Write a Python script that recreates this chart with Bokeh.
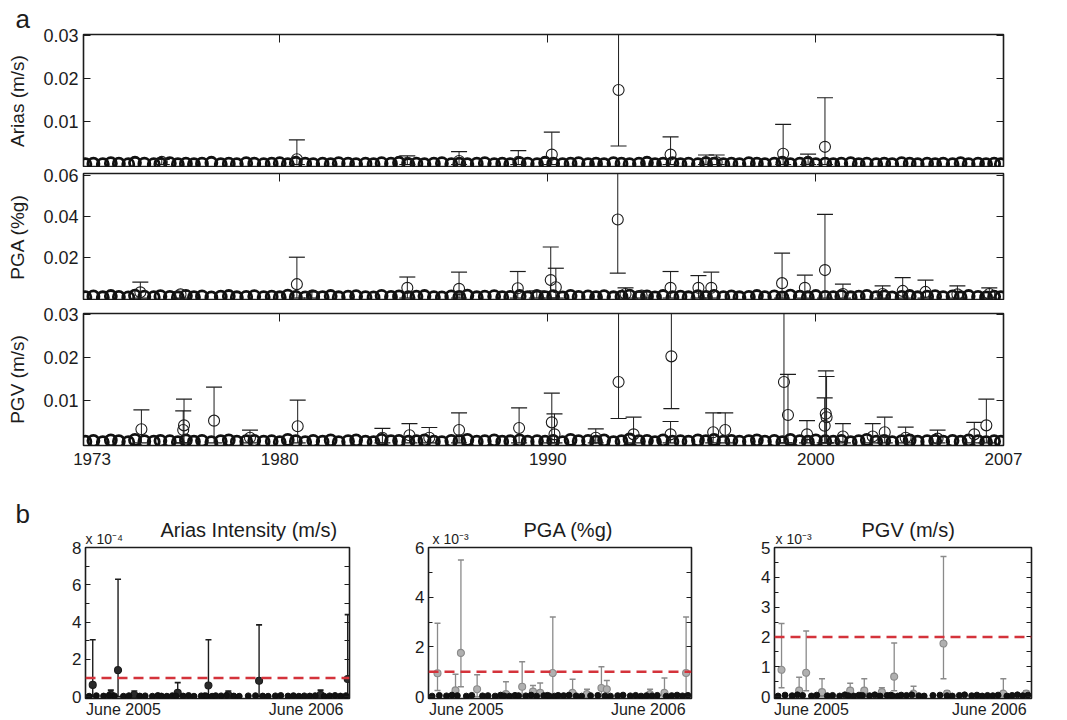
from bokeh.plotting import figure
from bokeh.layouts import column, row
from bokeh.models import FixedTicker, LinearAxis, Span, Range1d, Title
from bokeh.embed import file_html
from bokeh.resources import INLINE

# ---------------- data : panel a (1973-2007) ----------------
year_ticks = [1973, 1980, 1990, 2000, 2007]
year_labels = ["1973", "1980", "1990", "2000", "2007"]
decade_ticks = [1980, 1990, 2000]

# dense row of small events (values in units of 1e-4)
base_years = [1972.75, 1973.05, 1973.40, 1973.70, 1974.00, 1974.35, 1974.60, 1974.95, 1975.30, 1975.55,
              1975.90, 1976.20, 1976.50, 1976.80, 1977.10, 1977.45, 1977.80, 1978.10, 1978.40, 1978.75,
              1979.05, 1979.40, 1979.70, 1980.00, 1980.30, 1980.60, 1980.95, 1981.25, 1981.60, 1981.90,
              1982.20, 1982.55, 1982.85, 1983.20, 1983.50, 1983.80, 1984.15, 1984.45, 1984.80, 1985.10,
              1985.40, 1985.75, 1986.05, 1986.40, 1986.70, 1987.00, 1987.35, 1987.65, 1988.00, 1988.30,
              1988.60, 1988.95, 1989.25, 1989.60, 1989.90, 1990.20, 1990.55, 1990.85, 1991.15, 1991.50,
              1991.80, 1992.10, 1992.45, 1992.75, 1993.05, 1993.40, 1993.70, 1994.00, 1994.30, 1994.65,
              1994.95, 1995.25, 1995.60, 1995.90, 1996.20, 1996.55, 1996.85, 1997.15, 1997.50, 1997.80,
              1998.10, 1998.45, 1998.75, 1999.05, 1999.40, 1999.70, 2000.00, 2000.35, 2000.65, 2000.95,
              2001.30, 2001.60, 2001.90, 2002.25, 2002.55, 2002.85, 2003.20, 2003.50, 2003.80, 2004.15,
              2004.45, 2004.75, 2005.10, 2005.40, 2005.70, 2006.05, 2006.35, 2006.65, 2006.90]
base_arias_e4 = [1, 2, 1, 3, 2, 1, 4, 2, 1, 2,
                 3, 1, 2, 1, 2, 4, 1, 2, 1, 3,
                 2, 1, 2, 3, 1, 4, 2, 1, 2, 1,
                 3, 2, 1, 2, 1, 3, 2, 4, 1, 2,
                 1, 2, 3, 1, 2, 1, 2, 3, 1, 2,
                 1, 3, 2, 1, 4, 2, 1, 2, 3, 1,
                 2, 1, 3, 2, 1, 2, 4, 1, 2, 3,
                 1, 2, 1, 3, 2, 1, 2, 1, 3, 2,
                 1, 2, 4, 1, 2, 3, 1, 2, 1, 2,
                 3, 1, 2, 1, 2, 1, 3, 2, 1, 2,
                 1, 2, 1, 3, 1, 2, 1, 2, 1]
base_pga_e4 = [5, 8, 4, 10, 6, 3, 12, 7, 5, 9,
               6, 4, 11, 5, 8, 3, 7, 10, 4, 6,
               9, 5, 7, 4, 12, 6, 3, 8, 5, 10,
               4, 7, 9, 5, 3, 11, 6, 8, 4, 7,
               10, 5, 3, 8, 6, 12, 4, 7, 9, 5,
               6, 10, 4, 7, 5, 9, 3, 11, 6, 8,
               5, 9, 4, 7, 12, 6, 8, 3, 10, 5,
               7, 4, 9, 6, 11, 5, 8, 4, 6, 10,
               5, 8, 3, 12, 7, 4, 10, 6, 5, 9,
               4, 7, 11, 5, 8, 3, 6, 10, 4, 7,
               9, 5, 8, 4, 10, 6, 3, 7, 5]
base_pgv_e4 = [3, 5, 2, 6, 4, 2, 7, 4, 3, 5,
               4, 2, 6, 3, 5, 2, 4, 6, 3, 4,
               5, 3, 4, 2, 7, 4, 2, 5, 3, 6,
               2, 4, 6, 3, 2, 7, 4, 5, 3, 4,
               6, 3, 2, 5, 4, 7, 3, 4, 6, 3,
               4, 6, 3, 4, 3, 5, 2, 7, 4, 5,
               3, 6, 2, 4, 8, 4, 5, 2, 6, 3,
               4, 3, 6, 4, 7, 3, 5, 3, 4, 6,
               3, 5, 2, 7, 4, 3, 6, 4, 3, 5,
               2, 4, 7, 3, 5, 2, 4, 6, 3, 4,
               5, 3, 5, 3, 6, 4, 2, 4, 3]

# larger events with error bars (value, lower, upper)
arias_t = [1975.60, 1980.64, 1984.76, 1986.69, 1988.90, 1990.15, 1992.64, 1994.58, 1995.90, 1996.30,
           1998.78, 1999.71, 2000.34]
arias_v = [0.0006, 0.0012, 0.0004, 0.0008, 0.0006, 0.0023, 0.0173, 0.0023, 0.0005, 0.0005,
           0.0025, 0.0006, 0.0041]
arias_lo = [0.0, 0.0, 0.0, 0.0, 0.0, 0.0, 0.0043, 0.0, 0.0, 0.0,
            0.0, 0.0, 0.0]
arias_up = [0.0012, 0.0057, 0.0020, 0.0030, 0.0032, 0.0075, 0.0350, 0.0064, 0.0022, 0.0022,
            0.0093, 0.0024, 0.0155]

pga_t = [1974.80, 1976.30, 1980.64, 1981.20, 1984.76, 1986.69, 1988.88, 1989.59, 1990.11, 1990.30,
         1992.61, 1992.90, 1993.50, 1994.58, 1995.62, 1996.10, 1998.74, 1999.59, 2000.34, 2001.01,
         2002.49, 2003.24, 2004.09, 2005.28, 2006.47]
pga_v = [0.0028, 0.0018, 0.0068, 0.0012, 0.0050, 0.0045, 0.0048, 0.0015, 0.0088, 0.0053,
         0.0385, 0.0020, 0.0012, 0.0050, 0.0050, 0.0050, 0.0073, 0.0050, 0.0137, 0.0020,
         0.0020, 0.0035, 0.0030, 0.0018, 0.0020]
pga_lo = [0.0, 0.0, 0.0, 0.0, 0.0, 0.0, 0.0, 0.0, 0.0, 0.0,
          0.0122, 0.0, 0.0, 0.0, 0.0, 0.0, 0.0, 0.0, 0.0, 0.0,
          0.0, 0.0, 0.0, 0.0, 0.0]
pga_up = [0.0078, 0.0032, 0.0200, 0.0030, 0.0103, 0.0127, 0.0130, 0.0035, 0.0250, 0.0146,
          0.0650, 0.0050, 0.0030, 0.0130, 0.0110, 0.0127, 0.0220, 0.0112, 0.0410, 0.0068,
          0.0060, 0.0100, 0.0088, 0.0060, 0.0050]

pgv_t = [1974.84, 1976.40, 1976.43, 1977.55, 1978.89, 1980.67, 1983.83, 1984.84, 1985.58, 1986.69,
         1988.93, 1990.15, 1990.25, 1991.79, 1992.64, 1993.20, 1994.61, 1994.58, 1996.17, 1996.62,
         1998.81, 1998.96, 1999.67, 2000.37, 2000.40, 2000.33, 2001.01, 2002.12, 2002.57, 2003.35,
         2004.54, 2005.91, 2006.36]
pgv_v = [0.0032, 0.0030, 0.0041, 0.0052, 0.0012, 0.0039, 0.0012, 0.0018, 0.0012, 0.0030,
         0.0035, 0.0048, 0.0020, 0.0012, 0.0142, 0.0020, 0.0202, 0.0020, 0.0025, 0.0030,
         0.0142, 0.0065, 0.0020, 0.0068, 0.0060, 0.0040, 0.0015, 0.0015, 0.0025, 0.0012,
         0.0010, 0.0020, 0.0041]
pgv_lo = [0.0, 0.0, 0.0, 0.0, 0.0, 0.0, 0.0, 0.0, 0.0, 0.0,
          0.0, 0.0, 0.0, 0.0, 0.0057, 0.0, 0.0080, 0.0, 0.0, 0.0,
          0.0, 0.0, 0.0, 0.0, 0.0, 0.0, 0.0, 0.0, 0.0, 0.0,
          0.0, 0.0, 0.0]
pgv_up = [0.0077, 0.0075, 0.0102, 0.0130, 0.0030, 0.0100, 0.0034, 0.0045, 0.0036, 0.0070,
          0.0082, 0.0116, 0.0068, 0.0033, 0.0350, 0.0060, 0.0330, 0.0050, 0.0070, 0.0070,
          0.0340, 0.0160, 0.0052, 0.0168, 0.0155, 0.0105, 0.0045, 0.0045, 0.0060, 0.0037,
          0.0030, 0.0048, 0.0102]

# ---------------- data : panel b (2005-2006) ----------------
b_ticks = [2005.41, 2006.42]
b_labels = ["June 2005", "June 2006"]
b_base_t = [2005.22, 2005.26, 2005.30, 2005.33, 2005.36, 2005.41, 2005.44, 2005.50, 2005.53, 2005.57,
            2005.60, 2005.62, 2005.65, 2005.68, 2005.70, 2005.74, 2005.77, 2005.80, 2005.84, 2005.86,
            2005.87, 2005.90, 2005.92, 2005.95, 2005.98, 2006.02, 2006.05, 2006.10, 2006.14, 2006.18,
            2006.21, 2006.25, 2006.28, 2006.32, 2006.35, 2006.38, 2006.41, 2006.44, 2006.47, 2006.52,
            2006.55, 2006.58, 2006.61, 2006.64]
b_base_v = [0.02, 0.05, 0.03, 0.06, 0.04, 0.02, 0.05, 0.03, 0.04, 0.02,
            0.06, 0.03, 0.02, 0.05, 0.04, 0.03, 0.06, 0.02, 0.04, 0.05,
            0.03, 0.02, 0.05, 0.04, 0.06, 0.03, 0.02, 0.04, 0.05, 0.03,
            0.02, 0.04, 0.06, 0.03, 0.05, 0.02, 0.04, 0.03, 0.05, 0.02,
            0.04, 0.06, 0.03, 0.05]

ai_t = [2005.24, 2005.34, 2005.38, 2005.47, 2005.71, 2005.88, 2005.99, 2006.16, 2006.50, 2006.65]
ai_v = [0.63, 0.10, 1.42, 0.10, 0.20, 0.60, 0.10, 0.85, 0.10, 0.95]      # x 1e-4 m/s
ai_lo = [0.0, 0.0, 0.0, 0.0, 0.0, 0.0, 0.0, 0.0, 0.0, 0.0]
ai_up = [3.05, 0.35, 6.30, 0.30, 0.75, 3.05, 0.30, 3.85, 0.35, 4.40]
ai_thr = 1.0

pa_t = [2005.25, 2005.35, 2005.38, 2005.47, 2005.63, 2005.72, 2005.78, 2005.82, 2005.89, 2006.00,
        2006.08, 2006.16, 2006.19, 2006.43, 2006.51, 2006.63]
pa_v = [0.94, 0.25, 1.76, 0.30, 0.10, 0.40, 0.20, 0.15, 0.95, 0.15,
        0.10, 0.35, 0.30, 0.10, 0.15, 0.95]                                 # x 1e-3 %g
pa_lo = [0.25, 0.0, 0.40, 0.0, 0.0, 0.0, 0.0, 0.0, 0.0, 0.0,
         0.0, 0.0, 0.0, 0.0, 0.0, 0.10]
pa_up = [2.95, 0.90, 5.50, 0.88, 0.60, 1.40, 0.45, 0.55, 3.20, 0.70,
         0.30, 1.20, 0.65, 0.30, 0.75, 3.20]
pa_thr = 1.0

pv_t = [2005.24, 2005.34, 2005.38, 2005.47, 2005.63, 2005.71, 2005.81, 2005.88, 2005.99, 2006.16,
        2006.18, 2006.50, 2006.63]
pv_v = [0.90, 0.20, 0.80, 0.15, 0.20, 0.20, 0.15, 0.67, 0.10, 1.78,
        0.10, 0.10, 0.10]                                                   # x 1e-3 m/s
pv_lo = [0.30, 0.0, 0.20, 0.0, 0.0, 0.0, 0.0, 0.20, 0.0, 0.60,
         0.0, 0.0, 0.0]
pv_up = [2.45, 0.65, 2.20, 0.60, 0.45, 0.60, 0.30, 1.80, 0.35, 4.70,
         0.20, 0.60, 0.20]
pv_thr = 2.0

# ---------------- styling ----------------
FONT = "Liberation Sans"
INK = "#1c1c1c"
GREY = "#8a8a8a"
RED = "#d4333b"


def base_fig(width, height, xr, yr, left, right, top, bottom):
    p = figure(width=width, height=height, x_range=Range1d(*xr), y_range=Range1d(*yr),
               min_border_left=left, min_border_right=right, min_border_top=top,
               min_border_bottom=bottom, output_backend="svg", toolbar_location=None,
               title_location=None)
    p.grid.visible = False
    p.outline_line_color = INK
    p.outline_line_width = 1.6
    p.outline_line_alpha = 1.0
    p.background_fill_color = "white"
    p.border_fill_color = "white"
    return p


def style_axis(ax, size="18px", tick_in=7, standoff=5):
    ax.axis_line_color = None
    ax.major_tick_in = tick_in
    ax.major_tick_out = 0
    ax.minor_tick_in = 4
    ax.minor_tick_out = 0
    ax.major_tick_line_color = INK
    ax.minor_tick_line_color = INK
    ax.major_label_text_font = FONT
    ax.major_label_text_font_size = size
    ax.major_label_text_color = INK
    ax.major_label_standoff = standoff


def tick_only_axis(marks, tick_in):
    # inward tick marks without any labels (marks carried as minor ticks)
    ax = LinearAxis(ticker=FixedTicker(ticks=[], minor_ticks=marks))
    ax.axis_line_color = None
    ax.major_tick_in = 0
    ax.major_tick_out = 0
    ax.minor_tick_in = tick_in
    ax.minor_tick_out = 0
    ax.minor_tick_line_color = INK
    ax.major_label_standoff = 0
    return ax


def add_title(p, text, size, align, offset, standoff):
    t = Title(text=text, align=align, offset=offset, text_font=FONT, text_font_size=size,
              text_font_style="normal", text_color=INK)
    try:
        t.standoff = standoff
    except Exception:
        t.standoff = 0
    p.add_layout(t, "above")


def panel_a(name, yr, yt, top, height, bottom, show_x):
    p = base_fig(1067, height, (1972.68, 2007.0), yr, 83, 64, top, bottom)
    yax = p.yaxis[0]
    yax.ticker = FixedTicker(ticks=yt)
    yax.major_label_overrides = {t: f"{t:.2f}" for t in yt}
    style_axis(yax)
    yax.axis_label = name
    yax.axis_label_text_font = FONT
    yax.axis_label_text_font_size = "19px"
    yax.axis_label_text_font_style = "normal"
    yax.axis_label_text_color = INK
    yax.axis_label_standoff = 12
    xax = p.xaxis[0]
    if show_x:
        xax.ticker = FixedTicker(ticks=year_ticks)
        xax.major_label_overrides = dict(zip(year_ticks, year_labels))
        style_axis(xax, size="17px", tick_in=0, standoff=7)
    else:
        xax.visible = False
    p.add_layout(tick_only_axis(yt, 7), "right")
    p.add_layout(tick_only_axis(decade_ticks, 8), "above")
    return p


def draw_events(p, t, v, lo, up, color, cap, msize, mfill, lw):
    p.segment(t, lo, t, up, line_color=color, line_width=lw)
    p.scatter(t, up, marker="dash", size=cap, line_color=color, line_width=lw + 0.2)
    p.scatter(t, lo, marker="dash", size=cap, line_color=color, line_width=lw + 0.2)
    p.scatter(t, v, marker="circle", size=msize, fill_color=mfill, line_color=color,
              line_width=1.1)


# ---------------- panel a ----------------
pA1 = panel_a("Arias (m/s)", (-0.0007, 0.0302), [0.01, 0.02, 0.03], 34, 167, 0, False)
pA2 = panel_a("PGA (%g)", (-0.0012, 0.061), [0.02, 0.04, 0.06], 6, 133, 0, False)
pA3 = panel_a("PGV (m/s)", (-0.0006, 0.0302), [0.01, 0.02, 0.03], 13, 175, 30, True)

for p, vals in ((pA1, base_arias_e4), (pA2, base_pga_e4), (pA3, base_pgv_e4)):
    p.scatter(base_years, [v * 1e-4 for v in vals], marker="circle", size=11,
              fill_color=None, line_color="#111111", line_width=2.8)

draw_events(pA1, arias_t, arias_v, arias_lo, arias_up, INK, 16, 11, None, 1.0)
draw_events(pA2, pga_t, pga_v, pga_lo, pga_up, INK, 16, 11, None, 1.0)
draw_events(pA3, pgv_t, pgv_v, pgv_lo, pgv_up, INK, 16, 11, None, 1.0)

add_title(pA1, "a", "26px", "left", -68, 2)


# ---------------- panel b ----------------
def panel_b(width, left, right, ymax, majors, minors, scale_txt, scale_off, title, title_off):
    p = base_fig(width, 245, (2005.20, 2006.66), (-ymax / 80.0, ymax), left, right, 72, 20)
    yax = p.yaxis[0]
    yax.ticker = FixedTicker(ticks=majors, minor_ticks=minors)
    yax.major_label_overrides = {t: str(t) for t in majors}
    style_axis(yax, size="17px", tick_in=5, standoff=4)
    xax = p.xaxis[0]
    xax.ticker = FixedTicker(ticks=b_ticks)
    xax.major_label_overrides = dict(zip(b_ticks, b_labels))
    style_axis(xax, size="16px", tick_in=0, standoff=2)
    p.add_layout(tick_only_axis(sorted(majors + minors), 5), "right")
    add_title(p, scale_txt, "14px", "left", scale_off, 1)
    add_title(p, title, "20px", "left", title_off, -25)
    return p


pB1 = panel_b(379, 85, 30, 8.0, [0, 2, 4, 6, 8], [1, 3, 5, 7], "x 10\u207b\u2074", 0,
              "Arias Intensity (m/s)", 75)
pB2 = panel_b(356, 49, 44, 6.0, [0, 2, 4, 6], [1, 3, 5], "x 10\u207b\u00b3", 4,
              "PGA (%g)", 95)
pB3 = panel_b(332, 39, 36, 5.0, [0, 1, 2, 3, 4, 5], [0.5, 1.5, 2.5, 3.5, 4.5], "x 10\u207b\u00b3", 1,
              "PGV (m/s)", 87)

for p, thr in ((pB1, ai_thr), (pB2, pa_thr), (pB3, pv_thr)):
    p.add_layout(Span(location=thr, dimension="width", line_color=RED, line_width=2.6,
                      line_dash="10 6"))

draw_events(pB1, ai_t, ai_v, ai_lo, ai_up, INK, 6, 7, "#2a2a2a", 1.4)
draw_events(pB2, pa_t, pa_v, pa_lo, pa_up, GREY, 6, 7, "#b0b0b0", 1.3)
draw_events(pB3, pv_t, pv_v, pv_lo, pv_up, GREY, 6, 7, "#b0b0b0", 1.3)

for p in (pB1, pB2, pB3):
    p.scatter(b_base_t, b_base_v, marker="circle", size=6, fill_color="#111111",
              line_color="#111111")

add_title(pB1, "b", "26px", "left", -70, -1)

layout = column(pA1, pA2, pA3, row(pB1, pB2, pB3))
open("out.html", "w").write(file_html(layout, INLINE))
